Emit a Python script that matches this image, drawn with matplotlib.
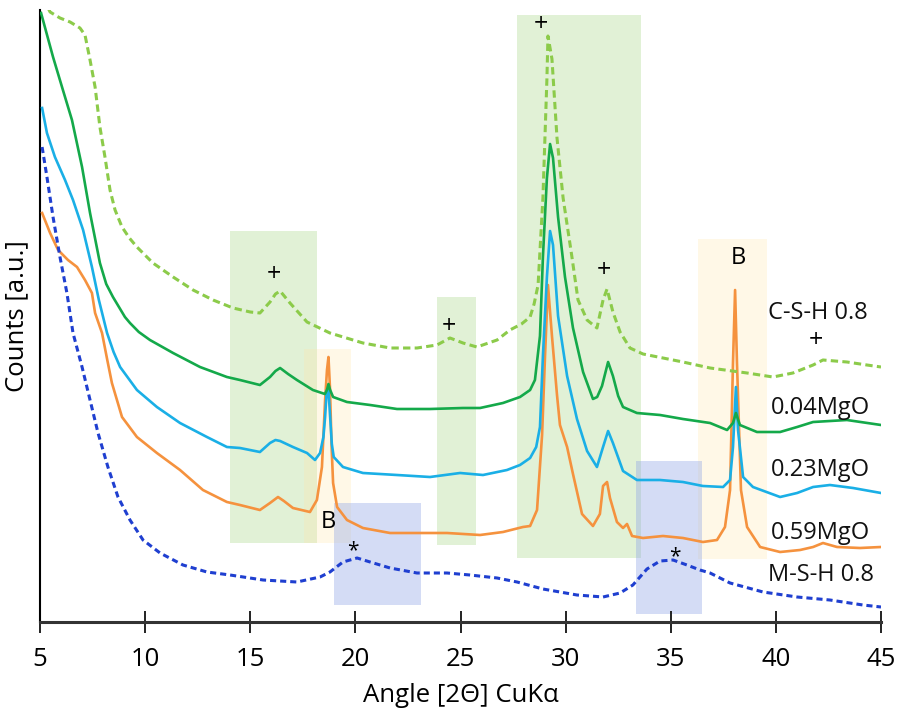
import matplotlib.pyplot as plt
from matplotlib.patches import Rectangle

plt.rcParams['font.family'] = ['Open Sans', 'DejaVu Sans']

# --- XRD traces (2theta in degrees, counts in arbitrary units) ---
csh_x = [5.00, 5.48, 5.95, 6.43, 6.90, 7.14, 7.38, 7.62, 7.85, 8.09, 8.33, 8.57, 8.90,
         9.25, 9.61, 10.37, 11.33, 12.28, 13.23, 14.18, 15.00, 15.46, 15.94, 16.20, 16.42,
         16.89, 17.70, 18.79, 20.36, 21.65, 22.93, 23.88, 24.50, 25.12, 25.78, 26.74, 27.35,
         27.90, 28.31, 28.50, 28.69, 28.92, 29.11, 29.16, 29.35, 29.59, 29.88, 30.30, 30.59,
         31.02, 31.49, 31.78, 31.97, 32.25, 32.59, 33.06, 33.68, 34.63, 35.58, 36.87,
         38.63, 39.86, 40.81, 41.77, 42.24, 43.38, 44.33, 45.00]
csh_y = [630, 610, 604, 600, 594, 587, 562, 535, 495, 465, 432, 412, 395,
         384, 375, 359, 345, 332, 322, 314, 310, 309, 320, 328, 331,
         319, 300, 289, 279, 274, 274, 277, 284, 279, 275, 282, 292,
         298, 305, 318, 337, 424, 543, 586, 563, 484, 424, 365, 322,
         302, 294, 322, 333, 310, 290, 274, 268, 264, 260, 254,
         249, 245, 249, 257, 262, 260, 257, 255]

mgo004_x = [5.05, 5.62, 6.09, 6.52, 7.00, 7.38, 7.85, 8.15, 8.47, 9.04, 9.28, 9.70,
            10.23, 11.33, 12.61, 13.89, 14.51, 15.46, 15.94, 16.20, 16.42, 16.80, 17.22,
            17.98, 18.55, 18.65, 18.72, 18.80, 18.94, 19.60, 20.70, 21.98, 23.55, 25.12,
            25.93, 27.02, 27.83, 28.31, 28.54, 28.78, 28.92, 29.11, 29.26, 29.40, 29.64,
            29.97, 30.35, 30.83, 31.30, 31.50, 31.73, 32.02, 32.25, 32.50, 32.73, 33.39,
            34.49, 35.58, 36.87, 37.68, 37.96, 38.10, 38.29, 39.10, 40.20, 41.01, 41.77,
            43.38, 45.00]
mgo004_y = [609, 565, 532, 502, 455, 409, 359, 338, 325, 305, 299, 290,
            282, 269, 255, 245, 242, 237, 245, 251, 254, 248, 242,
            232, 228, 232, 238, 232, 225, 220, 217, 213, 213, 214,
            214, 219, 225, 232, 242, 286, 365, 444, 478, 464, 405,
            345, 294, 250, 223, 225, 236, 260, 246, 226, 215, 209,
            207, 203, 199, 192, 199, 209, 197, 190, 190, 195, 200,
            202, 197]

mgo023_x = [5.10, 5.33, 5.71, 6.19, 6.57, 7.05, 7.47, 7.80, 8.19, 8.50, 8.81, 9.61,
            10.56, 11.66, 12.94, 13.89, 14.51, 15.46, 15.94, 16.20, 16.42, 17.03, 17.70,
            18.08, 18.32, 18.48, 18.56, 18.64, 18.72, 18.80, 18.88, 18.97, 19.41, 20.36,
            21.98, 23.55, 24.98, 26.07, 27.21, 27.83, 28.31, 28.60, 28.78, 28.92, 29.11,
            29.26, 29.40, 29.64, 30.07, 30.54, 31.02, 31.49, 31.78, 32.02, 32.25, 32.73,
            33.39, 34.49, 35.58, 36.53, 37.49, 37.82, 37.96, 38.10, 38.20, 38.44, 38.91,
            40.20, 41.01, 41.77, 42.57, 43.67, 45.00]
mgo023_y = [514, 489, 465, 442, 422, 392, 355, 322, 289, 270, 255, 232,
            215, 199, 185, 175, 174, 170, 179, 182, 181, 175, 169,
            162, 169, 185, 205, 232, 232, 205, 178, 165, 155, 149,
            147, 145, 149, 147, 152, 157, 164, 175, 195, 266, 345,
            391, 377, 306, 246, 203, 171, 155, 175, 191, 179, 151,
            142, 142, 140, 136, 135, 142, 175, 235, 192, 145, 135,
            125, 129, 135, 137, 134, 129]

mgo059_x = [5.10, 5.48, 5.86, 6.33, 6.76, 7.14, 7.47, 7.62, 7.95, 8.20, 8.42, 8.90,
            9.61, 10.56, 11.66, 12.75, 13.89, 14.51, 15.46, 15.94, 16.32, 16.60, 17.03,
            17.84, 18.17, 18.41, 18.56, 18.65, 18.72, 18.79, 18.87, 18.94, 19.13, 19.60,
            20.36, 21.65, 22.93, 24.36, 25.93, 27.02, 27.97, 28.31, 28.64, 28.88, 29.02,
            29.16, 29.35, 29.59, 29.73, 30.07, 30.35, 30.78, 31.30, 31.63, 31.78, 31.97,
            32.11, 32.44, 32.73, 32.92, 33.16, 33.68, 34.63, 35.58, 36.53, 37.20, 37.58,
            37.82, 37.96, 38.06, 38.15, 38.34, 38.63, 39.25, 40.20, 41.15, 41.77, 42.24,
            42.91, 44.00, 45.00]
mgo059_y = [409, 389, 372, 362, 355, 342, 329, 309, 289, 262, 239, 205,
            185, 169, 152, 132, 120, 117, 112, 119, 125, 121, 114,
            110, 122, 155, 222, 252, 265, 235, 175, 139, 115, 102,
            94, 89, 89, 89, 87, 90, 95, 96, 112, 187, 266,
            337, 286, 227, 197, 175, 148, 108, 96, 108, 136, 140,
            124, 100, 94, 98, 86, 84, 86, 84, 80, 82, 95,
            132, 259, 332, 259, 132, 95, 75, 70, 72, 75, 79,
            75, 74, 75]

msh_x = [5.10, 5.33, 5.62, 5.95, 6.28, 6.57, 7.00, 7.38, 7.76, 8.23, 8.71, 9.28,
         9.90, 10.71, 11.80, 12.94, 14.04, 15.61, 17.22, 18.32, 18.79, 19.41, 20.08,
         20.70, 21.65, 22.93, 24.36, 25.45, 26.74, 27.69, 28.92, 30.54, 31.78, 32.59,
         33.20, 33.87, 34.49, 35.11, 35.77, 36.39, 36.87, 37.82, 39.39, 41.01, 42.57,
         44.14, 45.00]
msh_y = [475, 445, 405, 365, 329, 289, 255, 222, 189, 155, 125, 102,
         82, 69, 57, 50, 47, 42, 40, 45, 50, 60, 64,
         60, 54, 49, 49, 47, 44, 40, 33, 27, 25, 29,
         37, 53, 61, 62, 57, 52, 49, 39, 30, 25, 22,
         17, 15]

series_names = ['C-S-H 0.8', '0.04MgO', '0.23MgO', '0.59MgO', 'M-S-H 0.8']

# shaded phase regions: (x0, x1, y0, y1, kind)
regions = [
    (14.04, 18.17, 79, 391, 'green'),
    (23.88, 25.74, 77, 325, 'green'),
    (27.69, 33.58, 64, 607, 'green'),
    (17.56, 19.79, 79, 273, 'cream'),
    (36.30, 39.60, 63, 383, 'cream'),
    (18.98, 23.12, 17, 119, 'blue'),
    (33.35, 36.49, 8, 161, 'blue'),
]
region_style = {
    'green': ((190/255, 225/255, 165/255), 0.45),
    'cream': ((255/255, 230/255, 170/255), 0.28),
    'blue': ((142/255, 164/255, 230/255), 0.38),
}

fig = plt.figure(figsize=(8.99, 7.19), dpi=100)
ax = fig.add_axes([40/899, 97/719, 841/899, 612/719])

for x0, x1, y0, y1, kind in regions:
    col, a = region_style[kind]
    ax.add_patch(Rectangle((x0, y0), x1 - x0, y1 - y0, facecolor=col, alpha=a,
                           edgecolor='none', zorder=1))

ax.plot(mgo059_x, mgo059_y, color='#F5923E', lw=1.9, zorder=3)
ax.plot(mgo023_x, mgo023_y, color='#1AAFE6', lw=1.9, zorder=4)
ax.plot(mgo004_x, mgo004_y, color='#14A94A', lw=1.9, zorder=5)
ax.plot(csh_x, csh_y, color='#8CCB4A', lw=2.2, dashes=(2.4, 1.4), zorder=6)
ax.plot(msh_x, msh_y, color='#1F3FD0', lw=2.2, dashes=(2.0, 1.3), zorder=6)

# series labels
lab_pos = [(39.63, 309), (39.77, 214), (39.77, 152), (39.77, 89), (39.63, 47)]
for name, (lx, ly) in zip(series_names, lab_pos):
    ax.text(lx, ly, name, fontsize=17, va='center', ha='left', color='#111111', zorder=7)

# phase markers
for mx, my in [(16.13, 347), (24.45, 295), (28.83, 597), (31.83, 352), (41.91, 282)]:
    ax.text(mx, my, '+', fontsize=18, ha='center', va='center', zorder=7)
for mx, my in [(38.2, 364), (18.70, 100)]:
    ax.text(mx, my, 'B', fontsize=17, ha='center', va='center', zorder=7)
for mx, my in [(19.89, 71), (35.2, 65)]:
    ax.text(mx, my, '*', fontsize=15, ha='center', va='center', zorder=7)

ax.set_xlim(5, 45)
ax.set_ylim(0, 612)
ax.set_xticks(range(5, 46, 5))
ax.set_yticks([])
ax.tick_params(axis='x', direction='inout', length=16, width=1.4, pad=10,
               labelsize=18.5, color='#222222')
for side in ['top', 'right']:
    ax.spines[side].set_visible(False)
ax.spines['bottom'].set_linewidth(2.2)
ax.spines['bottom'].set_color('#333333')
ax.spines['left'].set_linewidth(1.5)
ax.spines['left'].set_color('#000000')
ax.set_xlabel('Angle [2Θ] CuKα', fontsize=18.5, labelpad=8)
ax.set_ylabel('Counts [a.u.]', fontsize=18.5, labelpad=8)

fig.savefig('out.png', dpi=100)
